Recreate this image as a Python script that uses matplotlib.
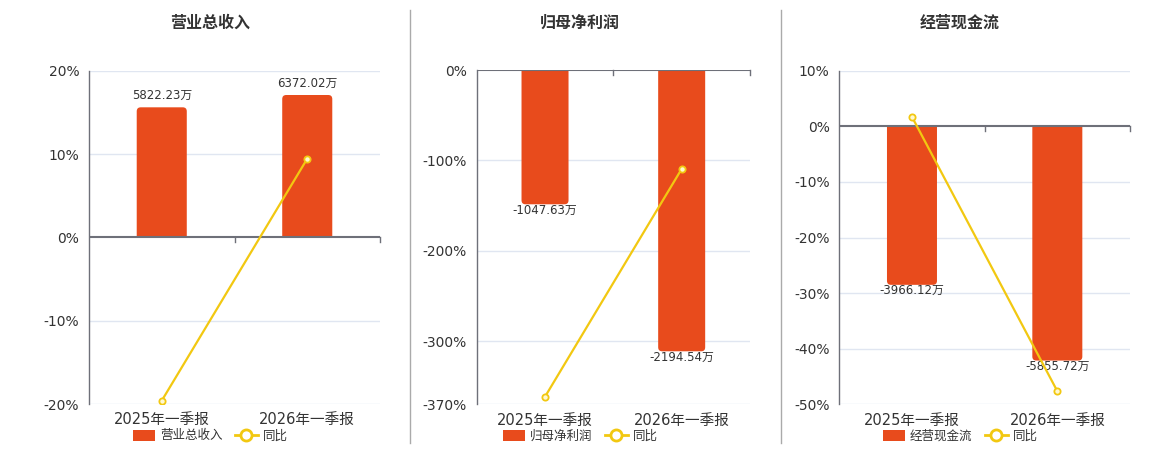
import matplotlib
matplotlib.use("Agg")
import matplotlib.pyplot as plt
from matplotlib.patches import FancyBboxPatch, Patch, Rectangle
from matplotlib.lines import Line2D
from matplotlib.transforms import blended_transform_factory

plt.rcParams['font.family'] = ['DejaVu Sans', 'Noto Sans CJK SC']

# ==============================
# DATA
# ==============================

categories = ["2025年一季报", "2026年一季报"]

titles = ["营业总收入", "归母净利润", "经营现金流"]

revenue = [5822.23, 6372.02]          # 万
revenue_yoy = [-19.6, 9.44]           # %

net_profit = [-1047.63, -2194.54]
net_profit_yoy = [-361.6, -109.48]

cash_flow = [-3966.12, -5855.72]
cash_flow_yoy = [1.7, -47.64]

pct_ticks = [
    [-20, -10, 0, 10, 20],
    [-370, -300, -200, -100, 0],
    [-50, -40, -30, -20, -10, 0, 10],
]

# ==============================
# LAYOUT / STYLE
# ==============================

W, H = 1160, 450
BAR_COLOR = "#E84B1C"
LINE_COLOR = "#F2C811"
AXIS_COLOR = "#6E7079"
GRID_COLOR = "#E0E6F1"
TEXT_COLOR = "#333333"

# axes boxes in pixels: left, top, right, bottom
boxes = [(89, 70.7, 380, 404), (476.7, 70, 750, 404.3), (839.3, 70.7, 1130, 404.3)]
# hidden value axis for the bars
bar_lims = [(-7425, 7457), (-2608, 0), (-6947, 1377)]
centers = [210, 580, 960]

series = [
    (revenue, revenue_yoy),
    (net_profit, net_profit_yoy),
    (cash_flow, cash_flow_yoy),
]

fig = plt.figure(figsize=(W / 100, H / 100), dpi=100)

for i, (vals, yoy) in enumerate(series):
    l, t, r, b = boxes[i]
    ax = fig.add_axes([l / W, 1 - b / H, (r - l) / W, (b - t) / H])
    ax2 = ax.twinx()
    ax.set_zorder(ax2.get_zorder() + 1)
    ax.patch.set_visible(False)

    ticks = pct_ticks[i]
    lo, hi = ticks[0], ticks[-1]
    ax.set_ylim(lo, hi)
    ax.set_xlim(-0.5, 1.5)
    ax2.set_ylim(*bar_lims[i])
    ax2.set_xlim(-0.5, 1.5)

    x = list(range(len(categories)))

    # grid lines behind the bars
    for v in ticks:
        if v != 0:
            f = (v - lo) / (hi - lo)
            ax2.plot([0, 1], [f, f], color=GRID_COLOR, lw=1,
                     transform=ax2.transAxes, zorder=0)

    # bars with rounded tips
    bars = ax2.bar(x, vals, width=0.344, color=BAR_COLOR, alpha=0)
    px_x = (r - l) / 2.0
    px_y = (b - t) / (bar_lims[i][1] - bar_lims[i][0])
    rad = 4.0 / px_x
    rad_y = 4.0 / px_y
    aspect = rad_y / rad
    for rect, v in zip(bars, vals):
        x0, w = rect.get_x(), rect.get_width()
        sign = 1 if v >= 0 else -1
        # extend past zero so the base corners are cut off by the clip
        y0 = min(-sign * rad_y * 2, v)
        h = abs(v) + rad_y * 2
        p = FancyBboxPatch((x0, y0), w, h,
                           boxstyle=f"round,pad=0,rounding_size={rad}",
                           mutation_aspect=aspect,
                           fc=BAR_COLOR, ec="none", zorder=2)
        ax2.add_patch(p)
        clip = Rectangle((x0 - 1, 0), w + 2, v * 1.5, transform=ax2.transData)
        p.set_clip_path(clip)
        if v >= 0:
            ax2.annotate(f"{v:.2f}万", (x0 + w / 2, v), xytext=(0, 4),
                         textcoords="offset points", ha="center", va="bottom",
                         fontsize=8.5, color=TEXT_COLOR)
        else:
            ax2.annotate(f"{v:.2f}万", (x0 + w / 2, v), xytext=(0, 0.5),
                         textcoords="offset points", ha="center", va="top",
                         fontsize=8.5, color=TEXT_COLOR)
    ax2.set_yticks([])
    for s in ax2.spines.values():
        s.set_visible(False)

    # yoy line
    ax.plot(x, yoy, color=LINE_COLOR, lw=1.6, marker="o", ms=4.5,
            mfc="#FFF8D0", mec=LINE_COLOR, mew=1.3, zorder=5)

    # axes
    ax.set_yticks(ticks)
    ax.set_yticklabels([f"{v}%" for v in ticks], fontsize=10, color=TEXT_COLOR)
    ax.tick_params(axis="y", length=0, pad=7)
    ax.axhline(0, color=AXIS_COLOR, lw=1.5, zorder=4)

    ax.set_xticks(x)
    ax.set_xticklabels(categories, fontsize=10.5, color=TEXT_COLOR)
    ax.tick_params(axis="x", length=0, pad=6)

    for name, s in ax.spines.items():
        s.set_visible(name == "left")
    ax.spines["left"].set_color(AXIS_COLOR)
    ax.spines["left"].set_linewidth(1)

    # small ticks on the zero line between categories
    tr = blended_transform_factory(ax.transData, ax.transAxes)
    z = (0 - lo) / (hi - lo)
    d = 5.0 / (b - t)
    for xt in [0.5, 1.5]:
        ax.plot([xt, xt], [z, z - d], color=AXIS_COLOR, lw=1,
                transform=tr, clip_on=False, zorder=4)

    # title and legend
    fig.text(centers[i] / W, 1 - 23 / H, titles[i], ha="center", va="center",
             fontsize=11.5, fontweight="bold", color=TEXT_COLOR)
    handles = [
        Patch(facecolor=BAR_COLOR, edgecolor="none", label=titles[i]),
        Line2D([0], [0], color=LINE_COLOR, lw=2, marker="o", ms=8,
               mfc="white", mec=LINE_COLOR, mew=2, label="同比"),
    ]
    fig.legend(handles=handles, loc="center",
               bbox_to_anchor=(centers[i] / W, 1 - 436 / H), ncol=2,
               frameon=False, fontsize=9, handlelength=1.8, handleheight=1.0,
               handletextpad=0.4, columnspacing=1.0, labelcolor=TEXT_COLOR,
               borderpad=0)

# separators
for xs in [410, 781]:
    fig.add_artist(Line2D([xs / W, xs / W], [1 - 10 / H, 1 - 443 / H],
                          color="#AAAAAA", lw=1))

fig.savefig("out.png", dpi=100)
